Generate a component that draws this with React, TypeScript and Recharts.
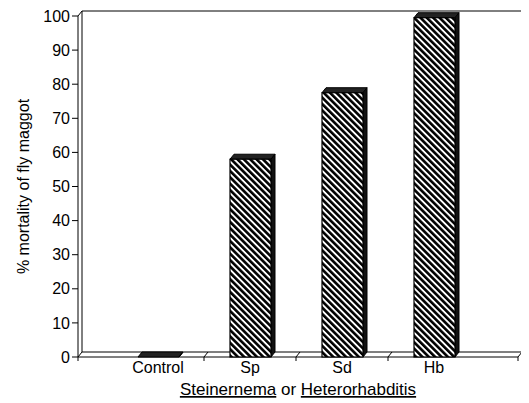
import { BarChart, Bar, XAxis, YAxis, usePlotArea } from "recharts";

const categories = ["Control", "Sp", "Sd", "Hb"];
const mortality = [0, 58, 77.5, 99.5];
const yTicks = [0, 10, 20, 30, 40, 50, 60, 70, 80, 90, 100];

const data = categories.map((name, i) => ({ name, mortality: mortality[i] }));

const FONT = "'Liberation Sans', Arial, sans-serif";
const DX = 4;
const DY = 5;

// 3D-ish bar: hatched front face, dark side and top faces
const Bar3D = (props: any) => {
  const { x, y, width, height } = props;
  const h = Math.max(height, 0);
  return (
    <g>
      <polygon
        points={`${x},${y} ${x + DX},${y - DY} ${x + width + DX},${y - DY} ${x + width},${y}`}
        fill="#222"
        stroke="#000"
        strokeWidth={1}
      />
      <polygon
        points={`${x + width},${y} ${x + width + DX},${y - DY} ${x + width + DX},${y + h - DY} ${x + width},${y + h}`}
        fill="#111"
        stroke="#000"
        strokeWidth={1}
      />
      {h > 0 && <rect x={x} y={y} width={width} height={h} fill="url(#hatch)" stroke="#000" strokeWidth={1.2} />}
    </g>
  );
};

const Frame = () => {
  const p = usePlotArea();
  if (!p) return null;
  const l = p.x;
  const r = p.x + p.width;
  const t = p.y;
  const b = p.y + p.height;
  const n = categories.length;
  const padL = 34;
  const band = (p.width - 34 - 38) / n;
  const seps = [1, 2, 3].map((k) => l + padL + band * k);
  return (
    <g stroke="#000" strokeWidth={1} fill="none">
      {/* back wall */}
      <line x1={l + DX} y1={t - DY} x2={r + DX} y2={t - DY} />
      <line x1={l + DX} y1={t - DY} x2={l + DX} y2={b - DY} />
      <line x1={r + DX} y1={t - DY} x2={r + DX} y2={b - DY} />
      {/* floor */}
      <line x1={l + DX} y1={b - DY} x2={r + DX} y2={b - DY} />
      <line x1={l} y1={b} x2={r} y2={b} />
      <line x1={r} y1={b} x2={r + DX} y2={b - DY} />
      <line x1={l} y1={b} x2={l + DX} y2={b - DY} />
      <line x1={l} y1={t} x2={l + DX} y2={t - DY} />
      {seps.map((sx, i) => (
        <g key={i}>
          <line x1={sx} y1={b} x2={sx + DX} y2={b - DY} />
          <line x1={sx} y1={b} x2={sx} y2={b + 4} />
        </g>
      ))}
      <line x1={r} y1={b} x2={r} y2={b + 4} />
      <line x1={l} y1={b} x2={l} y2={b + 4} />
      <text
        x={l + p.width / 2}
        y={b + 38}
        textAnchor="middle"
        fontFamily={FONT}
        fontSize={17}
        fill="#000"
        stroke="none"
      >
        <tspan textDecoration="underline">Steinernema</tspan>
        <tspan> or </tspan>
        <tspan textDecoration="underline">Heterorhabditis</tspan>
      </text>
    </g>
  );
};

export default function App() {
  return (
    <BarChart
      width={521}
      height={395}
      data={data}
      margin={{ top: 8, right: 11, bottom: 27, left: 0 }}
      barSize={41}
    >
      <defs>
        <pattern id="hatch" width="4.5" height="4.5" patternUnits="userSpaceOnUse" patternTransform="rotate(-45)">
          <rect width="4.5" height="4.5" fill="#fff" />
          <rect width="2.6" height="4.5" fill="#000" />
        </pattern>
      </defs>
      <Frame />
      <XAxis
        dataKey="name"
        axisLine={false}
        tickLine={false}
        padding={{ left: 34, right: 38 }}
        height={19}
        tick={{ fontFamily: FONT, fontSize: 16, fill: "#000", dy: -3 }}
      />
      <YAxis
        domain={[0, 100]}
        ticks={yTicks}
        interval={0}
        width={70}
        axisLine={{ stroke: "#000" }}
        tickLine={{ stroke: "#000" }}
        tickSize={6}
        tick={{ fontFamily: FONT, fontSize: 16, fill: "#000" }}
        label={{
          value: "% mortality of fly maggot",
          angle: -90,
          position: "insideLeft",
          dx: 10,
          style: { fontFamily: FONT, fontSize: 16, fill: "#000", textAnchor: "middle" },
        }}
      />
      <Bar dataKey="mortality" shape={<Bar3D />} isAnimationActive={false} />
    </BarChart>
  );
}
